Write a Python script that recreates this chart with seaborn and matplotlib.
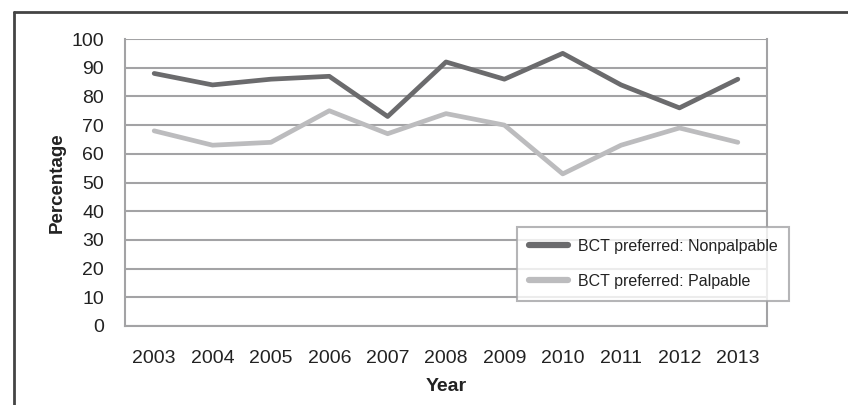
import matplotlib
matplotlib.use("Agg")
import matplotlib.pyplot as plt
from matplotlib.lines import Line2D
import numpy as np
import pandas as pd
import seaborn as sns

years = [2003, 2004, 2005, 2006, 2007, 2008, 2009, 2010, 2011, 2012, 2013]
nonpalpable = [88, 84, 86, 87, 73, 92, 86, 95, 84, 76, 86]
palpable = [68, 63, 64, 75, 67, 74, 70, 53, 63, 69, 64]
series_names = ["BCT preferred: Nonpalpable", "BCT preferred: Palpable"]
y_ticks = list(range(0, 101, 10))

sns.set_theme(style="white")
plt.rcParams["font.family"] = ["Liberation Sans", "DejaVu Sans"]

df = pd.DataFrame({
    "pos": list(range(len(years))) * 2,
    "value": nonpalpable + palpable,
    "series": [series_names[0]] * len(years) + [series_names[1]] * len(years),
})

W, H = 848, 405
fig = plt.figure(figsize=(W / 100, H / 100), dpi=100)
ax = fig.add_axes([125 / W, 1 - 326 / H, (767 - 125) / W, (326 - 39) / H])

grid_c = "#a3a3a5"
text_c = "#222222"
sns.lineplot(data=df, x="pos", y="value", hue="series",
             palette=["#6b6b6d", "#bcbcbe"], linewidth=3.4, ax=ax,
             legend=False, zorder=3)

ax.set_xlim(-0.5, len(years) - 0.5)
ax.set_ylim(0, 100)
ax.set_yticks(y_ticks)
ax.set_yticklabels([str(t) for t in y_ticks], fontsize=14, color=text_c)
ax.set_xticks(range(len(years)))
ax.set_xticklabels([str(y) for y in years], fontsize=14, color=text_c)
ax.set_xticks(np.arange(-0.5, len(years), 1.0), minor=True)
ax.tick_params(axis="x", which="major", length=0, pad=17)
ax.tick_params(axis="x", which="minor", length=6, width=1.5, color=grid_c, direction="out")
ax.tick_params(axis="y", length=7, width=1.5, color=grid_c, direction="out", pad=8)

ax.grid(axis="y", color=grid_c, linewidth=1.5, zorder=0)
ax.grid(axis="x", visible=False)
for side in ["left", "bottom", "right"]:
    ax.spines[side].set_visible(True)
    ax.spines[side].set_color(grid_c)
    ax.spines[side].set_linewidth(1.5)
ax.spines["top"].set_visible(False)

ax.set_xlabel("Year", fontsize=14, fontweight="bold", color=text_c, labelpad=8)
ax.set_ylabel("Percentage", fontsize=13.5, fontweight="bold", color=text_c, labelpad=4)

handles = [Line2D([0], [0], color="#6b6b6d", linewidth=4.5),
           Line2D([0], [0], color="#bcbcbe", linewidth=4.5)]
leg = fig.legend(handles, series_names, loc="upper left",
                 bbox_to_anchor=(517 / W, 1 - 227 / H), fontsize=11.5,
                 frameon=True, fancybox=False, handlelength=2.45,
                 labelspacing=1.25, borderpad=0.75, handletextpad=0.6,
                 borderaxespad=0)
leg.get_frame().set_edgecolor(grid_c)
leg.get_frame().set_linewidth(1.5)
for t in leg.get_texts():
    t.set_color(text_c)

# outer frame along left and top edges
fig.add_artist(Line2D([13.5 / W, 13.5 / W], [0, 1 - 11.5 / H], color="#444444", linewidth=2))
fig.add_artist(Line2D([13.5 / W, 1], [1 - 11.5 / H, 1 - 11.5 / H], color="#444444", linewidth=2))

fig.savefig("out.png", dpi=100)
